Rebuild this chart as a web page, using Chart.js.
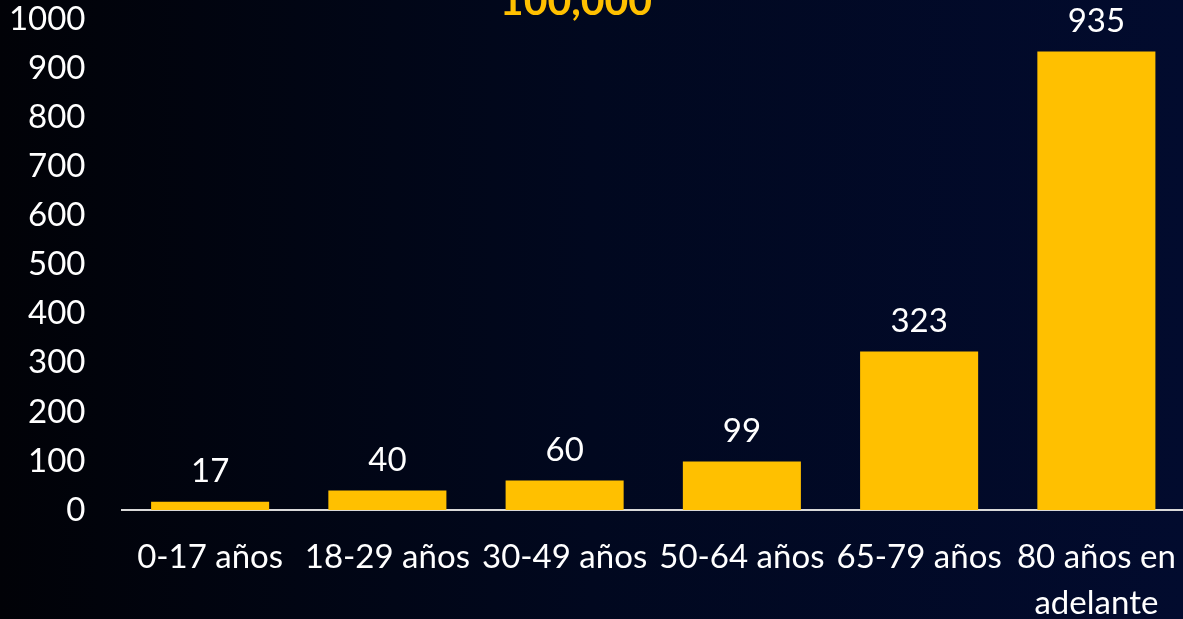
<!DOCTYPE html>
<html>
<head>
<meta charset="utf-8">
<script src="https://cdn.jsdelivr.net/npm/chart.js@4.4.1/dist/chart.umd.min.js"></script>
<style>
  html, body { margin: 0; padding: 0; width: 1183px; height: 619px; overflow: hidden; }
  body { background: linear-gradient(to right, #010207 0%, #01081f 50%, #020b2e 100%); }
  #c { display: block; }
</style>
</head>
<body>
<canvas id="c" width="1185" height="619" style="width:1185px;height:619px"></canvas>
<script>
const categories = ['0-17 años', '18-29 años', '30-49 años', '50-64 años', '65-79 años', ['80 años en', 'adelante']];
const values = [17, 40, 60, 99, 323, 935];
const yTicks = [0, 100, 200, 300, 400, 500, 600, 700, 800, 900, 1000];
const titleText = '100,000';

const FONT = 'Lato, "Open Sans", sans-serif';
const YELLOW = '#FFC000';

const valueLabels = {
  id: 'valueLabels',
  afterDatasetsDraw(chart) {
    const ctx = chart.ctx;
    const meta = chart.getDatasetMeta(0);
    ctx.save();
    ctx.font = '33px ' + FONT;
    ctx.fillStyle = '#ffffff';
    ctx.textAlign = 'center';
    ctx.textBaseline = 'middle';
    meta.data.forEach((bar, i) => {
      ctx.fillText(String(values[i]), bar.x, bar.y - 30);
    });
    ctx.restore();
  }
};

const cutTitle = {
  id: 'cutTitle',
  afterDraw(chart) {
    const ctx = chart.ctx;
    ctx.save();
    ctx.font = 'bold 41px ' + FONT;
    ctx.fillStyle = YELLOW;
    ctx.textAlign = 'center';
    ctx.textBaseline = 'alphabetic';
    ctx.fillText(titleText, 576, 15);
    ctx.restore();
  }
};

new Chart(document.getElementById('c'), {
  type: 'bar',
  data: {
    labels: categories,
    datasets: [{
      data: values,
      backgroundColor: YELLOW,
      borderWidth: 0,
      categoryPercentage: 1.0,
      barPercentage: 0.666
    }]
  },
  options: {
    responsive: false,
    animation: false,
    layout: { padding: { top: 0, right: 0, bottom: 0, left: 0 } },
    plugins: {
      legend: { display: false },
      title: { display: false },
      tooltip: { enabled: false }
    },
    scales: {
      x: {
        afterFit(scale) {
          scale.height = 109;
          scale.paddingLeft = 0;
          scale.paddingRight = 0;
        },
        grid: { display: false, drawTicks: false },
        border: { display: true, color: '#d9d9d9', width: 2 },
        ticks: {
          color: '#ffffff',
          font: { family: FONT, size: 33, lineHeight: 1.4 },
          padding: 24,
          maxRotation: 0,
          autoSkip: false
        }
      },
      y: {
        min: 0,
        max: 1000,
        afterBuildTicks(scale) { scale.ticks = yTicks.map(v => ({ value: v })); },
        afterFit(scale) {
          scale.width = 121.5;
          scale.paddingTop = 19.5;
          scale.paddingBottom = 0;
        },
        grid: { display: false, drawTicks: false },
        border: { display: false },
        ticks: {
          color: '#ffffff',
          font: { family: FONT, size: 33 },
          padding: 36,
          callback: (v) => String(v)
        }
      }
    }
  },
  plugins: [valueLabels, cutTitle]
});
</script>
</body>
</html>
